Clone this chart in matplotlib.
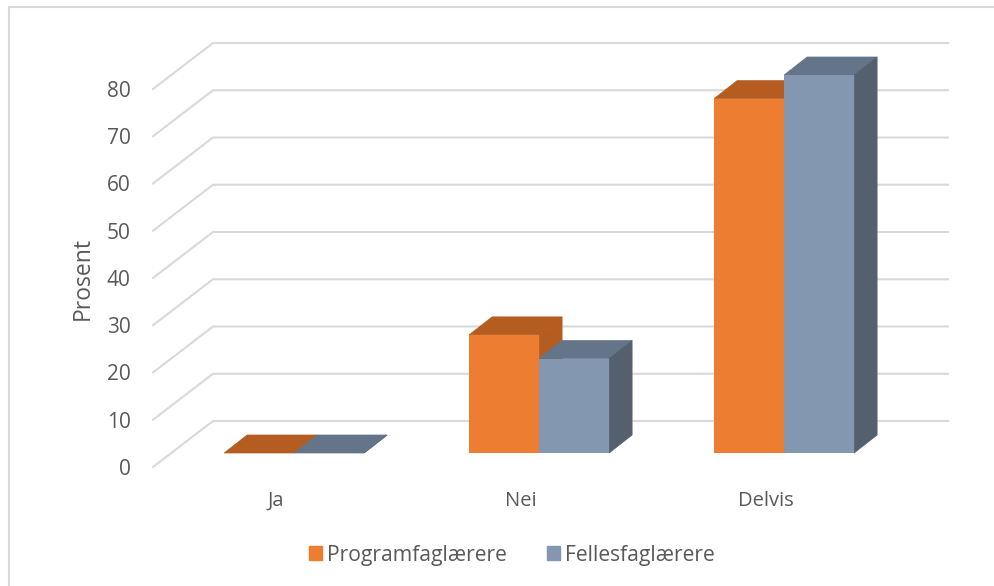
import matplotlib
matplotlib.use("Agg")
import matplotlib.pyplot as plt
from matplotlib.patches import Patch
from matplotlib.lines import Line2D
from matplotlib.transforms import Affine2D

plt.rcParams["font.family"] = ["Open Sans", "DejaVu Sans"]

categories = ["Ja", "Nei", "Delvis"]
programfag = [0, 25, 75]
fellesfag = [0, 20, 80]
yticks = [0, 10, 20, 30, 40, 50, 60, 70, 80]

W, H = 994, 586
TEXT = "#595959"
GRID = "#D9D9D9"
BAR_W = 70 / 245  # bar width in category units


def plot_bars(ax, xs, values, face, top, side, base):
    """Bars with a fake 3D top and side, offset into the floor"""
    depth = base + Affine2D().translate(23, 18)
    for x, v in zip(xs, values):
        l, r = x, x + BAR_W
        # top and side are sheared by mixing the two transforms in pixels
        p = [base.transform((l, v)), base.transform((r, v)),
             depth.transform((r, v)), depth.transform((l, v))]
        ax.fill([a[0] for a in p], [a[1] for a in p], color=top, lw=0.5,
                transform=None, zorder=3, clip_on=False)
        p = [base.transform((r, 0)), depth.transform((r, 0)),
             depth.transform((r, v)), base.transform((r, v))]
        ax.fill([a[0] for a in p], [a[1] for a in p], color=side, lw=0.5,
                transform=None, zorder=3, clip_on=False)
        ax.bar(l, v, BAR_W, align="edge", color=face, transform=base, zorder=3,
               clip_on=False)


fig = plt.figure(figsize=(W / 100, H / 100), dpi=100)
# axes is the front plane of the 3D box
ax = fig.add_axes([153 / W, 1 - 467 / H, 735 / W, 378 / H])
ax.set_xlim(-0.5, 2.5)
ax.set_ylim(0, 80)
for s in ax.spines.values():
    s.set_visible(False)

# gridlines run from front plane to the back wall, then along it
for v in yticks:
    x0, y0 = ax.transData.transform((-0.5, v))
    ax.add_line(Line2D([x0, x0 + 60, x0 + 795], [y0, y0 + 46, y0 + 46],
                       color=GRID, lw=1.5, transform=None, zorder=1,
                       clip_on=False))

base = ax.transData + Affine2D().translate(18.6, 14)
xs = list(range(len(categories)))
left = [x - BAR_W for x in xs]
plot_bars(ax, left, programfag, "#ED7D31", "#B55D20", "#B55D20", base)
plot_bars(ax, xs, fellesfag, "#8497B0", "#647589", "#55606F", base)
ax.set_xlim(-0.5, 2.5)
ax.set_ylim(0, 80)

ax.set_xticks(xs, categories)
ax.set_yticks(yticks)
ax.tick_params(axis="x", length=0, pad=17, labelsize=14.5, labelcolor=TEXT)
ax.tick_params(axis="y", length=0, pad=16, labelsize=15, labelcolor=TEXT)
ax.set_ylabel("Prosent", fontsize=16.5, color=TEXT)
ax.yaxis.set_label_coords(95 / W, 1 - 278 / H, transform=fig.transFigure)

# outer chart border, only top and left are in the picture
fig.add_artist(Line2D([9 / W, 9 / W, 1], [0, 1 - 7 / H, 1 - 7 / H],
                      color=GRID, lw=1.5))

handles = [Patch(color="#ED7D31", label="Programfaglærere"),
           Patch(color="#8497B0", label="Fellesfaglærere")]
fig.legend(handles=handles, loc="center", bbox_to_anchor=(512 / W, 1 - 555 / H),
           ncol=2, frameon=False, fontsize=15.2, labelcolor=TEXT,
           handlelength=0.62, handleheight=0.62, handletextpad=0.25,
           columnspacing=1.9)

fig.savefig("out.png", dpi=100)
